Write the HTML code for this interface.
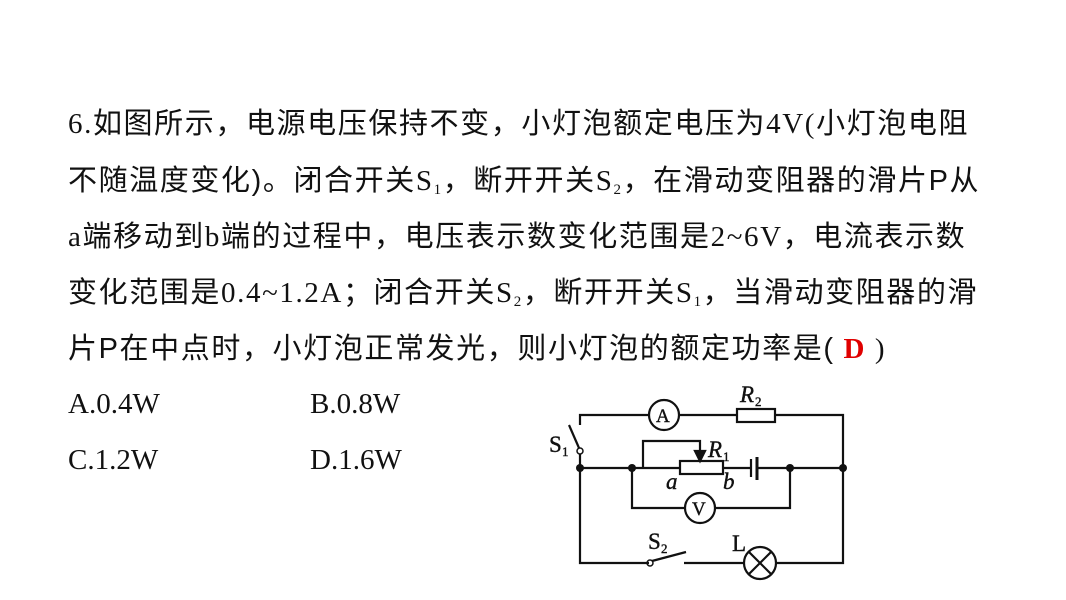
<!DOCTYPE html>
<html><head><meta charset="utf-8"><style>
body{margin:0;width:1066px;height:600px;background:#fff;position:relative;overflow:hidden;font-family:"Liberation Serif","Noto Sans CJK SC",serif;}
.l{position:absolute;left:68px;font-size:29px;white-space:nowrap;line-height:40px;color:#111;}
.t{letter-spacing:1.6px;}
.c{font-family:"Liberation Sans","Noto Sans CJK SC",sans-serif;}
sub{font-size:15px;vertical-align:-4px;}
</style></head><body>
<div class="l t" style="top:104px">6.<span class="c">如图所示，电源电压保持不变，小灯泡额定电压为</span>4V(<span class="c">小灯泡电阻</span></div>
<div class="l t" style="top:161px"><span class="c">不随温度变化)。闭合开关</span>S<sub>1</sub><span class="c">，断开开关</span>S<sub>2</sub><span class="c">，在滑动变阻器的滑片P从</span></div>
<div class="l t" style="top:217px">a<span class="c">端移动到</span>b<span class="c">端的过程中，电压表示数变化范围是</span>2~6V<span class="c">，电流表示数</span></div>
<div class="l t" style="top:273px"><span class="c">变化范围是</span>0.4~1.2A<span class="c">；闭合开关</span>S<sub>2</sub><span class="c">，断开开关</span>S<sub>1</sub><span class="c">，当滑动变阻器的滑</span></div>
<div class="l t" style="top:329px"><span class="c">片P在中点时，小灯泡正常发光，则小灯泡的额定功率是(</span> <b style="color:#e00000">D</b> )</div>
<div class="l" style="top:384px">A.0.4W</div>
<div class="l" style="top:384px;left:310px">B.0.8W</div>
<div class="l" style="top:440px">C.1.2W</div>
<div class="l" style="top:440px;left:310px">D.1.6W</div>
<svg style="position:absolute;left:0;top:0" width="1066" height="600" fill="none" stroke="#111" stroke-width="2.2">
<polyline points="580,425 580,415 649,415"/>
<line x1="679" y1="415" x2="737" y2="415"/>
<rect x="737" y="409" width="38" height="13"/>
<polyline points="775,415 843,415 843,563 775,563"/>
<circle cx="664" cy="415" r="15"/>
<line x1="569" y1="425" x2="579" y2="448"/>
<circle cx="580" cy="451" r="3" stroke-width="1.5"/>
<polyline points="580,454 580,563 649,563"/>
<line x1="580" y1="468" x2="680" y2="468"/>
<rect x="680" y="461" width="43" height="13"/>
<line x1="723" y1="468" x2="751" y2="468"/>
<line x1="751" y1="459" x2="751" y2="477"/>
<line x1="757" y1="457" x2="757" y2="480" stroke-width="3"/>
<line x1="757" y1="468" x2="843" y2="468"/>
<polyline points="643,468 643,441 700,441 700,452"/>
<polygon points="695,451 705,451 700,461" fill="#111"/>
<polyline points="632,468 632,508 685,508"/>
<polyline points="715,508 790,508 790,468"/>
<circle cx="700" cy="508" r="15"/>
<circle cx="650" cy="563" r="3" stroke-width="1.5"/>
<line x1="652" y1="561" x2="686" y2="552"/>
<line x1="684" y1="563" x2="744" y2="563"/>
<circle cx="760" cy="563" r="16"/>
<line x1="749" y1="552" x2="771" y2="574"/><line x1="771" y1="552" x2="749" y2="574"/>
<g fill="#111" stroke="none"><circle cx="580" cy="468" r="4"/><circle cx="632" cy="468" r="4"/><circle cx="790" cy="468" r="4"/><circle cx="843" cy="468" r="4"/></g>
<g fill="#111" stroke="#111" stroke-width="0.4" font-family="Liberation Serif,serif">
<text x="656" y="422" font-size="19">A</text>
<text x="692" y="515" font-size="19">V</text>
<text x="740" y="402" font-size="23" font-style="italic">R</text><text x="755" y="406" font-size="13">2</text>
<text x="708" y="457" font-size="23" font-style="italic">R</text><text x="723" y="461" font-size="13">1</text>
<text x="666" y="489" font-size="23" font-style="italic">a</text>
<text x="723" y="489" font-size="23" font-style="italic">b</text>
<text x="549" y="452" font-size="23">S</text><text x="562" y="456" font-size="13">1</text>
<text x="648" y="549" font-size="23">S</text><text x="661" y="553" font-size="13">2</text>
<text x="732" y="551" font-size="23">L</text>
</g>
</svg>
</body></html>
